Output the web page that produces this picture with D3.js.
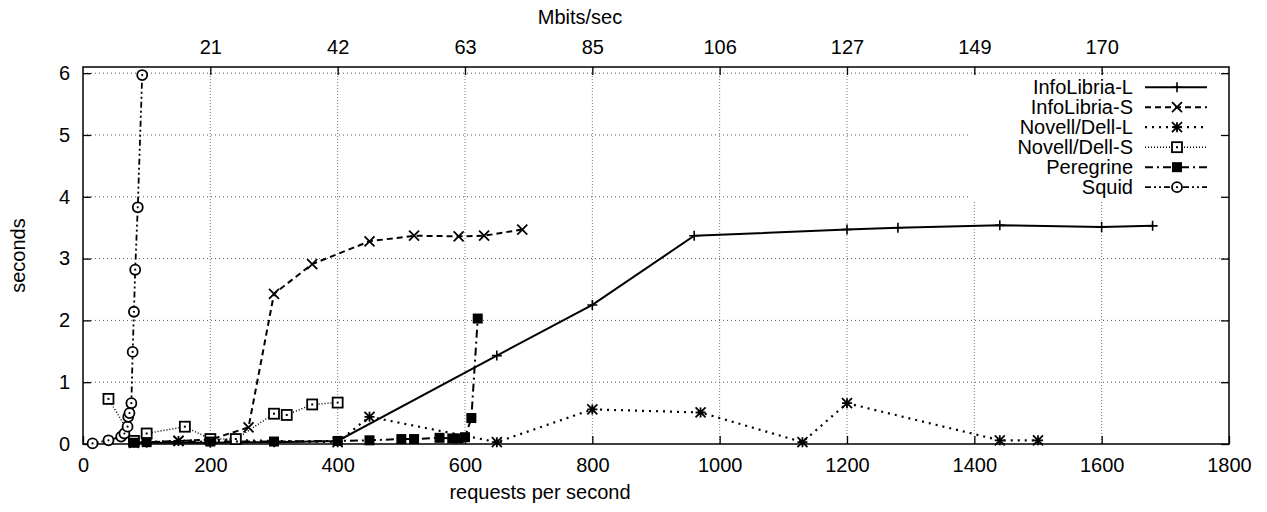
<!DOCTYPE html>
<html>
<head>
<meta charset="utf-8">
<script src="https://cdn.jsdelivr.net/npm/d3@7"></script>
<style>
  body { margin: 0; background: #fff; }
  svg text { font-family: "Liberation Sans", Arial, sans-serif; fill: #000; }
</style>
</head>
<body>
<div id="chart"></div>
<script>
// data: [requests/sec, seconds]
const infoLibriaL = [[100, 0.02], [200, 0.02], [300, 0.03], [400, 0.05], [650, 1.43], [800, 2.25], [960, 3.37],
    [1200, 3.47], [1280, 3.5], [1440, 3.54], [1600, 3.51], [1680, 3.53]];
const infoLibriaS = [[80, 0.02], [150, 0.05], [200, 0.07], [260, 0.27], [300, 2.43], [360, 2.91], [450, 3.28],
    [520, 3.37], [590, 3.36], [630, 3.37], [690, 3.47]];
const novellL = [[80, 0.03], [150, 0.05], [200, 0.07], [400, 0.03], [450, 0.44], [650, 0.03], [800, 0.56],
    [970, 0.51], [1130, 0.03], [1200, 0.66], [1440, 0.06], [1500, 0.06]];
const novellS = [[40, 0.73], [80, 0.05], [100, 0.17], [160, 0.28], [200, 0.08], [240, 0.08], [300, 0.49],
    [320, 0.47], [360, 0.64], [400, 0.67]];
const peregrine = [[80, 0.02], [100, 0.03], [200, 0.04], [300, 0.04], [400, 0.05], [450, 0.06], [500, 0.08],
    [520, 0.08], [560, 0.1], [580, 0.09], [590, 0.09], [600, 0.11], [610, 0.42], [620, 2.03]];
const squid = [[15, 0.01], [40, 0.06], [60, 0.12], [65, 0.17], [70, 0.28], [71, 0.44], [73, 0.5], [76, 0.66],
    [78, 1.49], [80, 2.14], [82, 2.82], [86, 3.83], [93, 5.97]];

const seriesNames = ['InfoLibria-L', 'InfoLibria-S', 'Novell/Dell-L', 'Novell/Dell-S', 'Peregrine', 'Squid'];
const xTicks = [0, 200, 400, 600, 800, 1000, 1200, 1400, 1600, 1800];
const yTicks = [0, 1, 2, 3, 4, 5, 6];
const topTickPos = [200, 400, 600, 800, 1000, 1200, 1400, 1600];
const topTickLabels = ['21', '42', '63', '85', '106', '127', '149', '170'];

const W = 1267, H = 512;
const margin = { top: 67, right: 38, bottom: 68, left: 83 };
const innerW = W - margin.left - margin.right;
const innerH = H - margin.top - margin.bottom;
const FS = '20px';

const svg = d3.select('#chart').append('svg')
    .attr('width', W).attr('height', H);

const g = svg.append('g').attr('transform', `translate(${margin.left},${margin.top})`);

const x = d3.scaleLinear().domain([0, 1800]).range([0, innerW]);
const y = d3.scaleLinear().domain([0, 6.1]).range([innerH, 0]);

// grid
g.append('g').selectAll('line.vg')
    .data(xTicks.slice(1, -1))
    .join('line')
    .attr('x1', d => x(d)).attr('x2', d => x(d))
    .attr('y1', 0).attr('y2', innerH)
    .attr('stroke', '#777').attr('stroke-width', 1).attr('stroke-dasharray', '1,2');
g.append('g').selectAll('line.hg')
    .data(yTicks.slice(1))
    .join('line')
    .attr('x1', 0).attr('x2', innerW)
    .attr('y1', d => y(d)).attr('y2', d => y(d))
    .attr('stroke', '#555').attr('stroke-width', 1).attr('stroke-dasharray', '1,3');

// legend box blanks the grid behind it
const legX = x(1400) - 5, legY = y(6) + 3;
g.append('rect')
    .attr('x', legX).attr('y', legY)
    .attr('width', innerW - legX - 1).attr('height', y(3.95) - legY)
    .attr('fill', '#fff');

// axes
const fmtInt = d3.format('d');
g.append('g')
    .attr('transform', `translate(0,${innerH})`)
    .call(d3.axisBottom(x).tickValues(xTicks).tickFormat(fmtInt).tickSizeInner(-8).tickSizeOuter(0).tickPadding(14))
    .call(a => a.select('.domain').remove());
g.append('g')
    .call(d3.axisLeft(y).tickValues(yTicks).tickFormat(fmtInt).tickSizeInner(-8).tickSizeOuter(0).tickPadding(13))
    .call(a => a.select('.domain').remove());
g.append('g')
    .attr('transform', `translate(${innerW},0)`)
    .call(d3.axisRight(y).tickValues(yTicks).tickFormat(() => '').tickSizeInner(-8).tickSizeOuter(0))
    .call(a => a.select('.domain').remove());
g.append('g')
    .call(d3.axisTop(x).tickValues(topTickPos).tickFormat((d, i) => topTickLabels[i])
        .tickSizeInner(-8).tickSizeOuter(0).tickPadding(13))
    .call(a => a.select('.domain').remove());

svg.selectAll('.tick text').style('font-size', FS).attr('fill', '#000')
    .style('font-family', '"Liberation Sans", Arial, sans-serif');
svg.selectAll('.tick line').attr('stroke', '#000').attr('stroke-width', 1.3);

g.append('rect')
    .attr('width', innerW).attr('height', innerH)
    .attr('fill', 'none').attr('stroke', '#000').attr('stroke-width', 1.5);

// axis titles (gnuplot puts them a bit left of the plot centre)
svg.append('text').attr('x', 540).attr('y', 499)
    .attr('text-anchor', 'middle').style('font-size', FS).text('requests per second');
svg.append('text').attr('x', 580).attr('y', 24)
    .attr('text-anchor', 'middle').style('font-size', FS).text('Mbits/sec');
svg.append('text').attr('transform', `translate(25,${margin.top + innerH / 2}) rotate(-90)`)
    .attr('text-anchor', 'middle').style('font-size', FS).text('seconds');

// marker shapes
function marker(sel, kind) {
    const s = 5;
    if (kind === 'plus') {
        sel.append('path').attr('d', `M${-s},0H${s}M0,${-s}V${s}`)
            .attr('stroke', '#000').attr('stroke-width', 1.6).attr('fill', 'none');
    } else if (kind === 'cross') {
        sel.append('path').attr('d', `M${-s},${-s}L${s},${s}M${-s},${s}L${s},${-s}`)
            .attr('stroke', '#000').attr('stroke-width', 1.8).attr('fill', 'none');
    } else if (kind === 'star') {
        sel.append('path').attr('d', `M${-s},0H${s}M0,${-s}V${s}M${-s},${-s}L${s},${s}M${-s},${s}L${s},${-s}`)
            .attr('stroke', '#000').attr('stroke-width', 1.8).attr('fill', 'none');
    } else if (kind === 'box') {
        sel.append('rect').attr('x', -s).attr('y', -s).attr('width', 2 * s).attr('height', 2 * s)
            .attr('fill', '#fff').attr('stroke', '#000').attr('stroke-width', 1.8);
        sel.append('rect').attr('x', -1).attr('y', -1).attr('width', 2).attr('height', 2).attr('fill', '#000');
    } else if (kind === 'fbox') {
        sel.append('rect').attr('x', -s).attr('y', -s).attr('width', 2 * s).attr('height', 2 * s)
            .attr('fill', '#000');
    } else if (kind === 'circle') {
        sel.append('circle').attr('r', s).attr('fill', '#fff').attr('stroke', '#000').attr('stroke-width', 1.8);
        sel.append('circle').attr('r', 1.1).attr('fill', '#000');
    }
}

const series = [
    { name: seriesNames[0], data: infoLibriaL, dash: null, width: 2, mark: 'plus' },
    { name: seriesNames[1], data: infoLibriaS, dash: '6,4', width: 2, mark: 'cross' },
    { name: seriesNames[2], data: novellL, dash: '2,5', width: 2.2, mark: 'star' },
    { name: seriesNames[3], data: novellS, dash: '1,2', width: 1.5, mark: 'box' },
    { name: seriesNames[4], data: peregrine, dash: '8,4,2,4', width: 2, mark: 'fbox' },
    { name: seriesNames[5], data: squid, dash: '6,3,2,3,2,3', width: 1.8, mark: 'circle' }
];

const line = d3.line().x(d => x(d[0])).y(d => y(d[1]));

series.forEach(s => {
    g.append('path')
        .datum(s.data)
        .attr('d', line)
        .attr('fill', 'none')
        .attr('stroke', '#000')
        .attr('stroke-width', s.width)
        .attr('stroke-dasharray', s.dash);
    g.append('g').selectAll('g')
        .data(s.data)
        .join('g')
        .attr('transform', d => `translate(${x(d[0])},${y(d[1])})`)
        .each(function() { marker(d3.select(this), s.mark); });
});

// legend
const leg = g.append('g').attr('transform', `translate(${innerW}, ${y(6) + 14})`);
series.forEach((s, i) => {
    const row = leg.append('g').attr('transform', `translate(0,${i * 20})`);
    row.append('text').attr('x', -96).attr('y', 0).attr('dy', '0.35em')
        .attr('text-anchor', 'end').style('font-size', FS).text(s.name);
    row.append('line').attr('x1', -84).attr('x2', -22).attr('y1', 0).attr('y2', 0)
        .attr('stroke', '#000').attr('stroke-width', s.width).attr('stroke-dasharray', s.dash);
    const m = row.append('g').attr('transform', 'translate(-52,0)');
    marker(m, s.mark);
});
</script>
</body>
</html>
